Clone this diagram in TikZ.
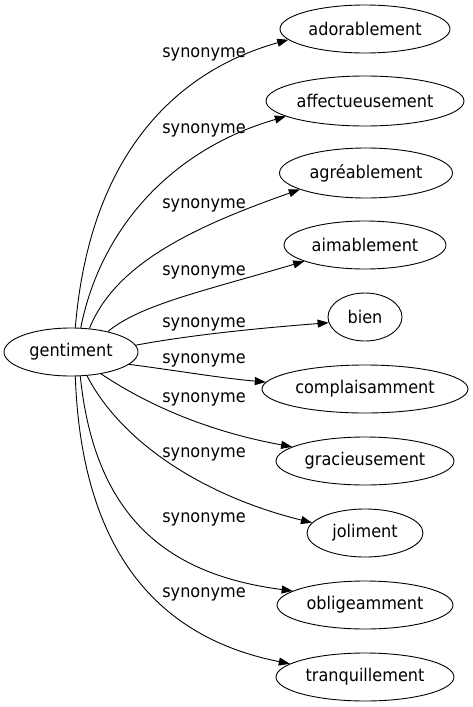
\documentclass[tikz,border=0pt]{standalone}
\usepackage{fontspec}
\setmainfont{DejaVu Sans}[FakeStretch=0.92]
\usetikzlibrary{shapes.geometric,arrows.meta}
\begin{document}
\begin{tikzpicture}[x=1pt,y=-1pt,
  word/.style={ellipse,draw,line width=0.9pt,inner sep=0pt,minimum height=48pt,font=\fontsize{17.5}{20}\selectfont},
  rel/.style={font=\fontsize{17.5}{20}\selectfont,inner sep=0pt},
  link/.style={line width=0.9pt,-{Triangle[length=11pt,width=8pt]}}]
\useasboundingbox (0,0) rectangle (473,707);
\node[word,minimum width=134pt] (g) at (71,352) {gentiment};
\node[word,minimum width=170pt] (n1) at (365,29) {adorablement};
\node[word,minimum width=198pt,minimum height=50pt] (n2) at (365,101) {affectueusement};
\node[word,minimum width=173pt,minimum height=50pt] (n3) at (366,173) {agréablement};
\node[word,minimum width=162pt] (n4) at (365,245) {aimablement};
\node[word,minimum width=74pt] (n5) at (365,317) {bien};
\node[word,minimum width=206pt] (n6) at (365,389) {complaisamment};
\node[word,minimum width=178pt] (n7) at (365,461) {gracieusement};
\node[word,minimum width=116pt] (n8) at (365,533) {joliment};
\node[word,minimum width=176pt] (n9) at (365,605) {obligeamment};
\node[word,minimum width=178pt] (n10) at (365,677) {tranquillement};
\draw[link] (g.80.5) .. controls (90,150) and (180,70) .. (n1.188);
\draw[link] (g.68.6) .. controls (100,230) and (170,150) .. (n2.191);
\draw[link] (g.52) .. controls (115,265) and (190,228) .. (n3.194.7);
\draw[link] (g.29) .. controls (140,305) and (200,292) .. (n4.195.5);
\draw[link] (g.6.2) .. controls (190,335) and (260,328) .. (n5.189);
\draw[link] (g.-12) .. controls (180,371) and (220,378) .. (n6.176.6);
\draw[link] (g.-36.6) .. controls (140,400) and (200,430) .. (n7.169);
\draw[link] (g.-56) .. controls (120,440) and (200,495) .. (n8.169.3);
\draw[link] (g.-69) .. controls (95,520) and (170,575) .. (n9.169.6);
\draw[link] (g.-80) .. controls (82,565) and (170,640) .. (n10.170.6);
\node[rel] (s1) at (204,54) {synonyme};
\node[rel] (s2) at (204,130) {synonyme};
\node[rel] (s3) at (204,205) {synonyme};
\node[rel] (s4) at (204,272) {synonyme};
\node[rel] (s5) at (204,324) {synonyme};
\node[rel] (s6) at (204,360) {synonyme};
\node[rel] (s7) at (204,399) {synonyme};
\node[rel] (s8) at (204,454) {synonyme};
\node[rel] (s9) at (204,519) {synonyme};
\node[rel] (s10) at (204,594) {synonyme};
\end{tikzpicture}
\end{document}
